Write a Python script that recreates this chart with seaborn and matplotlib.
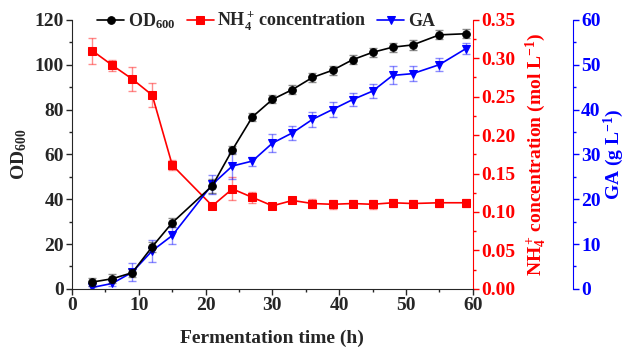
import numpy as np
import pandas as pd
import seaborn as sns
import matplotlib
matplotlib.use("Agg")
import matplotlib.pyplot as plt
from matplotlib.ticker import MultipleLocator

# data
time = [3, 6, 9, 12, 15, 21, 24, 27, 30, 33, 36, 39, 42, 45, 48, 51, 55, 59]
od600 = [3.0, 4.5, 7.2, 18.8, 29.5, 46.0, 62.0, 76.7, 84.5, 88.9, 94.3, 97.5, 102.2, 105.5, 107.8, 108.8, 113.3, 113.8]
od_err = [1.8, 2.0, 1.8, 2.2, 2.0, 3.2, 1.8, 1.8, 1.8, 2.0, 2.2, 2.0, 2.0, 2.0, 2.0, 2.4, 2.0, 2.0]
nh4 = [0.310, 0.291, 0.273, 0.252, 0.161, 0.108, 0.130, 0.119, 0.108, 0.115, 0.111, 0.110, 0.111, 0.110, 0.112, 0.111, 0.112, 0.112]
nh4_err = [0.017, 0.007, 0.015, 0.016, 0.006, 0.003, 0.015, 0.007, 0.003, 0.003, 0.006, 0.006, 0.005, 0.006, 0.005, 0.005, 0.005, 0.005]
ga = [0.3, 1.2, 3.7, 8.5, 11.9, 23.3, 27.4, 28.5, 32.5, 34.8, 37.8, 40.0, 42.2, 44.1, 47.6, 48.0, 50.0, 53.6]
ga_err = [0.4, 0.6, 2.0, 2.5, 1.8, 2.2, 2.8, 1.0, 2.0, 1.5, 1.6, 1.6, 1.4, 1.5, 2.0, 1.6, 1.5, 1.2]

df = pd.DataFrame({"time": time, "od": od600, "nh4": nh4, "ga": ga})

sns.set_style("ticks")
plt.rcParams['font.family'] = ['Liberation Serif', 'DejaVu Serif']
plt.rcParams['font.weight'] = 'bold'
plt.rcParams['mathtext.fontset'] = 'custom'
plt.rcParams['mathtext.rm'] = 'Liberation Serif:bold'
plt.rcParams['mathtext.it'] = 'Liberation Serif:bold'
plt.rcParams['mathtext.bf'] = 'Liberation Serif:bold'
plt.rcParams['mathtext.default'] = 'rm'

fs = 14
fig = plt.figure(figsize=(6.27, 3.48), dpi=100)
ax = fig.add_axes([0.115, 0.170, 0.639, 0.773])
ax2 = ax.twinx()
ax3 = ax.twinx()

red = "#ff0000"
blue = "#0000ff"
ms = 5.5

# OD600
ax.errorbar(time, od600, yerr=od_err, fmt='none', ecolor='black', alpha=0.45, capsize=3, elinewidth=1)
sns.lineplot(data=df, x="time", y="od", ax=ax, color='black', marker='o', markersize=ms,
             markeredgecolor='black', linewidth=1.2, label="OD$_{600}$", legend=False)
# NH4+
ax2.errorbar(time, nh4, yerr=nh4_err, fmt='none', ecolor=red, alpha=0.45, capsize=3, elinewidth=1)
sns.lineplot(data=df, x="time", y="nh4", ax=ax2, color=red, marker='s', markersize=ms,
             markeredgecolor=red, linewidth=1.2, label="NH$_4^+\\,$concentration", legend=False)
# GA
ax3.errorbar(time, ga, yerr=ga_err, fmt='none', ecolor=blue, alpha=0.45, capsize=3, elinewidth=1)
sns.lineplot(data=df, x="time", y="ga", ax=ax3, color=blue, marker='v', markersize=ms + 0.5,
             markeredgecolor=blue, linewidth=1.2, label="GA", legend=False)

ax.set_xlim(0, 60)
ax.set_ylim(0, 120)
ax2.set_ylim(0, 0.35)
ax3.set_ylim(0, 60)

ax.xaxis.set_major_locator(MultipleLocator(10))
ax.xaxis.set_minor_locator(MultipleLocator(5))
ax.yaxis.set_major_locator(MultipleLocator(20))
ax.yaxis.set_minor_locator(MultipleLocator(10))
ax2.yaxis.set_major_locator(MultipleLocator(0.05))
ax2.yaxis.set_minor_locator(MultipleLocator(0.025))
ax3.yaxis.set_major_locator(MultipleLocator(10))
ax3.yaxis.set_minor_locator(MultipleLocator(5))
ax2.yaxis.set_major_formatter(matplotlib.ticker.FormatStrFormatter('%.2f'))

for a in (ax, ax2, ax3):
    a.spines['top'].set_visible(False)
    a.tick_params(which='major', length=4, width=1, labelsize=fs, pad=2)
    a.tick_params(which='minor', length=2.5, width=1)
ax.spines['right'].set_visible(False)
ax2.spines['left'].set_visible(False)
ax3.spines['left'].set_visible(False)
ax3.spines['bottom'].set_visible(False)
ax2.spines['bottom'].set_visible(False)

ax2.spines['right'].set_color(red)
ax2.tick_params(axis='y', which='both', colors=red)
ax3.spines['right'].set_position(('outward', 72))
ax3.spines['right'].set_color(blue)
ax3.tick_params(axis='y', which='both', colors=blue)

ax.set_xlabel("Fermentation time (h)", fontsize=fs, fontweight='bold', labelpad=11)
ax.set_ylabel("OD$_{600}$", fontsize=fs, fontweight='bold', labelpad=4)
ax2.set_ylabel("NH$_4^+\\,$concentration (mol L$^{-1}$)", fontsize=fs, fontweight='bold', color=red, labelpad=6)
ax3.set_ylabel("GA (g L$^{-1}$)", fontsize=fs, fontweight='bold', color=blue, labelpad=1)

handles = []
labels = []
for a in (ax, ax2, ax3):
    h, l = a.get_legend_handles_labels()
    handles += h
    labels += l
leg = ax.legend(handles, labels, loc='upper left', bbox_to_anchor=(0.045, 1.065), ncol=3,
                frameon=False, fontsize=13, handlelength=1.5, handletextpad=0.2,
                columnspacing=0.6, borderaxespad=0)
ax3.set_zorder(ax.get_zorder() + 2)
ax.set_zorder(ax3.get_zorder() + 1)
ax.patch.set_visible(False)

fig.savefig("out.png", dpi=100)
